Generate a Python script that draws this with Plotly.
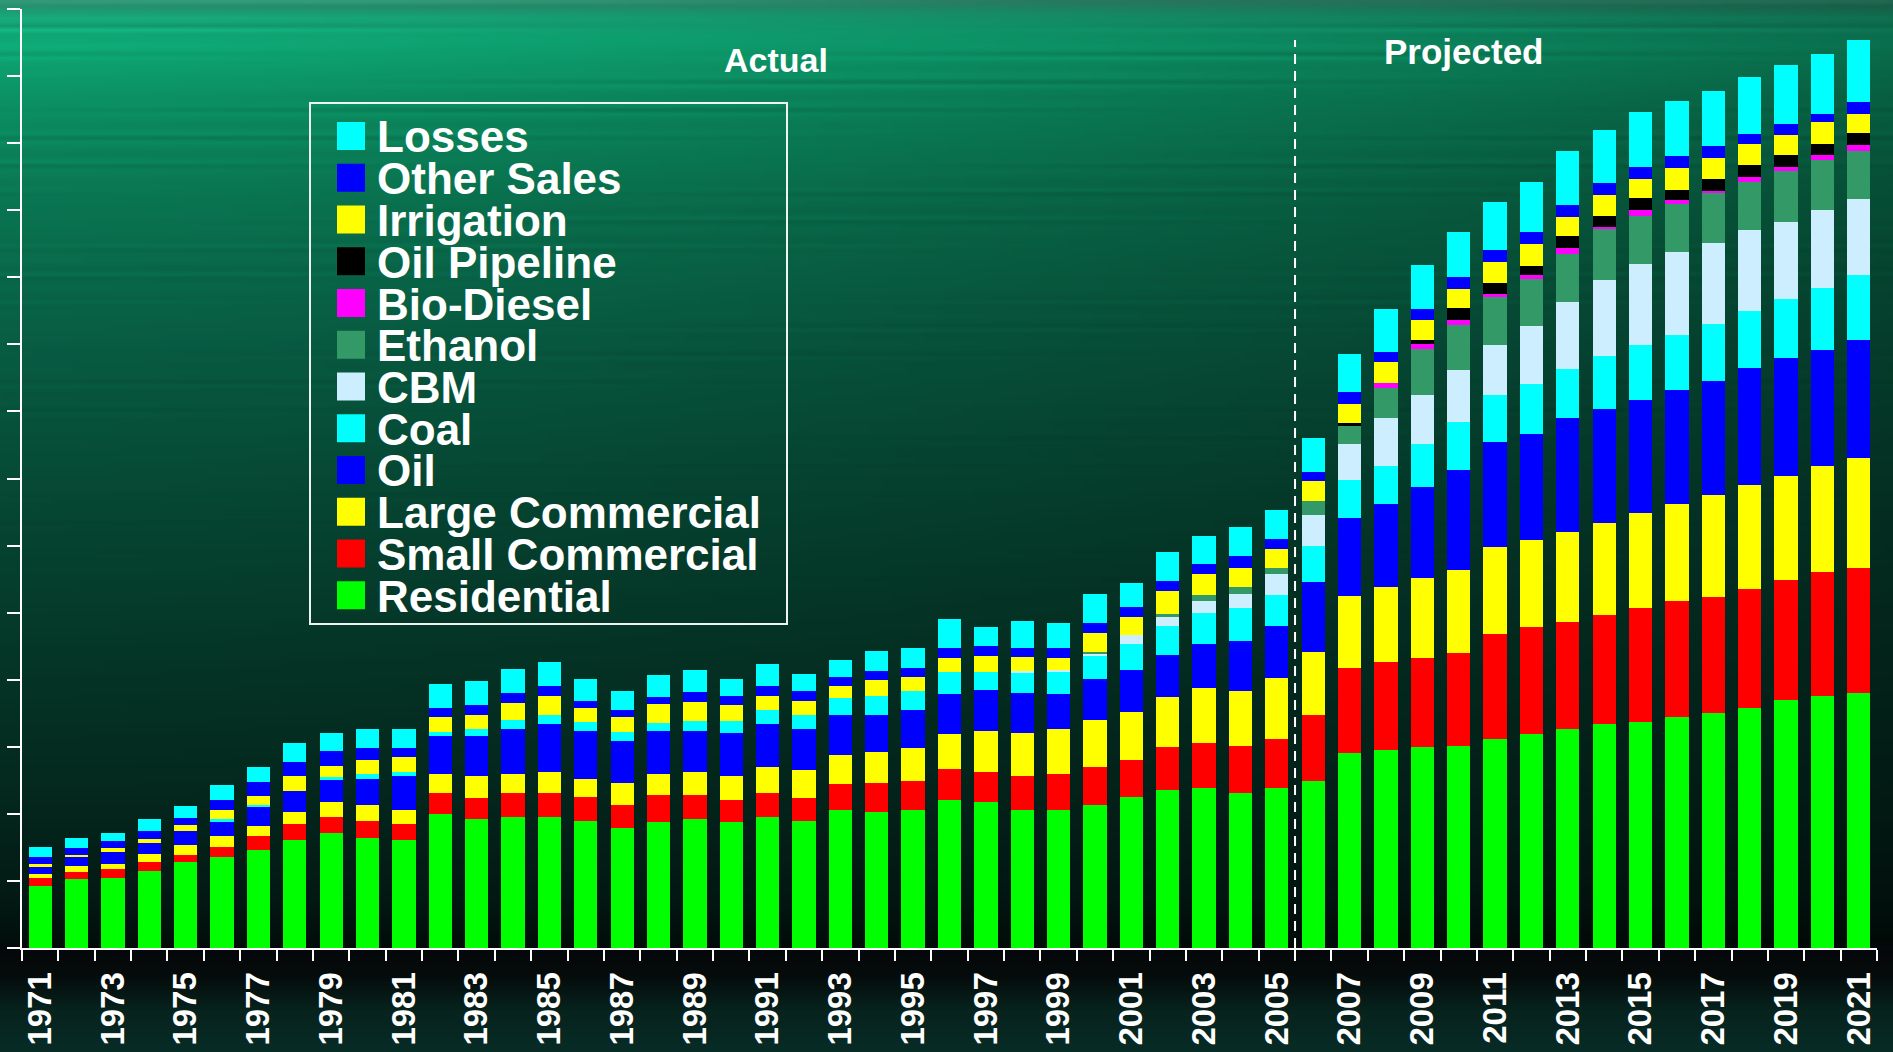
import numpy as np
import zlib, struct, base64
import plotly.graph_objects as go

# ---------------- data (units: one y-axis tick = 1) ----------------
years = list(range(1971, 2022))

residential = [0.92, 1.03, 1.04, 1.15, 1.28, 1.36, 1.46, 1.61, 1.71, 1.64,
               1.61, 2.00, 1.92, 1.95, 1.95, 1.89, 1.79, 1.88, 1.92, 1.88,
               1.95, 1.89, 2.06, 2.03, 2.06, 2.21, 2.18, 2.06, 2.06, 2.13,
               2.25, 2.36, 2.39, 2.31, 2.39, 2.49, 2.91, 2.95, 2.99, 3.01,
               3.12, 3.19, 3.26, 3.34, 3.37, 3.44, 3.50, 3.58, 3.70, 3.76, 3.80]
small_commercial = [0.12, 0.11, 0.14, 0.13, 0.10, 0.15, 0.21, 0.24, 0.24, 0.25,
                    0.24, 0.31, 0.31, 0.36, 0.36, 0.36, 0.34, 0.40, 0.36, 0.33,
                    0.36, 0.34, 0.39, 0.43, 0.43, 0.46, 0.45, 0.51, 0.54, 0.57,
                    0.55, 0.63, 0.67, 0.70, 0.73, 0.98, 1.27, 1.31, 1.34, 1.39,
                    1.56, 1.59, 1.60, 1.62, 1.70, 1.73, 1.74, 1.78, 1.79, 1.85, 1.87]
large_commercial = [0.06, 0.08, 0.07, 0.12, 0.15, 0.16, 0.15, 0.18, 0.22, 0.24,
                    0.21, 0.28, 0.33, 0.28, 0.31, 0.27, 0.33, 0.31, 0.34, 0.36,
                    0.39, 0.43, 0.43, 0.46, 0.49, 0.52, 0.60, 0.63, 0.67, 0.70,
                    0.72, 0.75, 0.82, 0.82, 0.90, 0.95, 1.07, 1.12, 1.19, 1.24,
                    1.30, 1.31, 1.34, 1.38, 1.42, 1.45, 1.52, 1.55, 1.55, 1.58, 1.63]
oil = [0.11, 0.14, 0.18, 0.16, 0.21, 0.21, 0.28, 0.31, 0.34, 0.39,
       0.51, 0.57, 0.60, 0.67, 0.72, 0.72, 0.63, 0.64, 0.61, 0.63,
       0.64, 0.60, 0.60, 0.55, 0.57, 0.60, 0.61, 0.60, 0.52, 0.61,
       0.63, 0.63, 0.66, 0.75, 0.78, 1.04, 1.16, 1.24, 1.36, 1.48,
       1.56, 1.58, 1.70, 1.70, 1.68, 1.70, 1.70, 1.74, 1.75, 1.73, 1.77]
coal = [0, 0, 0, 0, 0, 0.04, 0.03, 0, 0.04, 0.07,
        0.06, 0.06, 0.10, 0.14, 0.13, 0.13, 0.13, 0.13, 0.16, 0.18,
        0.21, 0.21, 0.25, 0.28, 0.28, 0.33, 0.28, 0.30, 0.33, 0.34,
        0.39, 0.43, 0.46, 0.49, 0.46, 0.54, 0.57, 0.56, 0.64, 0.72,
        0.70, 0.74, 0.73, 0.78, 0.82, 0.82, 0.84, 0.85, 0.88, 0.92, 0.96]
cbm = [0] * 27 + [0.03, 0.03, 0.04,
                  0.12, 0.13, 0.18, 0.21, 0.31, 0.45, 0.54, 0.72, 0.72, 0.78,
                  0.75, 0.86, 1.00, 1.14, 1.21, 1.23, 1.21, 1.21, 1.16, 1.16, 1.14]
ethanol = [0] * 29 + [0.03, 0,
                      0.05, 0.08, 0.10, 0.10, 0.21, 0.27, 0.45, 0.69, 0.67,
                      0.72, 0.71, 0.72, 0.76, 0.72, 0.73, 0.74, 0.71, 0.75, 0.75, 0.72]
bio_diesel = [0] * 37 + [0.07, 0.07, 0.07,
                         0.04, 0.06, 0.09, 0.03, 0.08, 0.05, 0.04, 0.07, 0.07, 0.07, 0.08]
oil_pipeline = [0] * 36 + [0.04, 0, 0.06, 0.18,
                           0.16, 0.13, 0.18, 0.16, 0.18, 0.15, 0.18, 0.18, 0.18, 0.16, 0.18]
irrigation = [0.04, 0.03, 0.06, 0.07, 0.10, 0.14, 0.13, 0.22, 0.16, 0.21,
              0.22, 0.22, 0.21, 0.25, 0.28, 0.21, 0.22, 0.28, 0.28, 0.25,
              0.21, 0.21, 0.18, 0.25, 0.21, 0.21, 0.24, 0.21, 0.18, 0.28,
              0.27, 0.34, 0.31, 0.28, 0.28, 0.30, 0.28, 0.32, 0.31, 0.29,
              0.32, 0.33, 0.28, 0.31, 0.29, 0.33, 0.31, 0.31, 0.29, 0.33, 0.29]
other_sales = [0.11, 0.10, 0.10, 0.11, 0.10, 0.15, 0.22, 0.21, 0.22, 0.18,
               0.13, 0.14, 0.15, 0.15, 0.15, 0.10, 0.11, 0.10, 0.15, 0.13,
               0.15, 0.15, 0.13, 0.13, 0.13, 0.15, 0.15, 0.13, 0.15, 0.15,
               0.15, 0.15, 0.15, 0.18, 0.15, 0.13, 0.18, 0.14, 0.15, 0.18,
               0.18, 0.18, 0.18, 0.18, 0.18, 0.18, 0.18, 0.15, 0.16, 0.13, 0.18]
losses = [0.15, 0.15, 0.12, 0.18, 0.18, 0.22, 0.22, 0.28, 0.28, 0.28,
          0.28, 0.36, 0.36, 0.36, 0.36, 0.33, 0.28, 0.33, 0.33, 0.25,
          0.33, 0.25, 0.25, 0.30, 0.30, 0.43, 0.28, 0.40, 0.36, 0.43,
          0.36, 0.43, 0.43, 0.43, 0.43, 0.51, 0.57, 0.64, 0.67, 0.67,
          0.72, 0.74, 0.80, 0.80, 0.82, 0.82, 0.82, 0.85, 0.89, 0.89, 0.92]

series_names = ["Residential", "Small Commercial", "Large Commercial", "Oil", "Coal",
                "CBM", "Ethanol", "Bio-Diesel", "Oil Pipeline", "Irrigation",
                "Other Sales", "Losses"]
series_values = [residential, small_commercial, large_commercial, oil, coal, cbm,
                 ethanol, bio_diesel, oil_pipeline, irrigation, other_sales, losses]
series_colors = ["#00ff00", "#ff0000", "#ffff00", "#0000ff", "#00ffff", "#cceeff",
                 "#339966", "#ff00ff", "#000000", "#ffff00", "#0000ff", "#00ffff"]

tick_years = list(range(1971, 2022, 2))
tick_labels = [str(y) for y in tick_years]

# ---------------- geometry (pixels) ----------------
W, H = 1893, 1052
ML, MR, MT, MB = 22, 16, 9, 104
PW, PH = W - ML - MR, H - MT - MB


def pxx(x):
    return (x - ML) / PW


def pxy(y):
    return (H - MB - y) / PH


# ---------------- background image ----------------
def make_png(arr):
    h, w, _ = arr.shape
    raw = b"".join(b"\x00" + arr[i].tobytes() for i in range(h))

    def chunk(t, d):
        c = struct.pack(">I", len(d)) + t + d
        return c + struct.pack(">I", zlib.crc32(t + d) & 0xFFFFFFFF)

    png = (b"\x89PNG\r\n\x1a\n"
           + chunk(b"IHDR", struct.pack(">IIBBBBB", w, h, 8, 2, 0, 0, 0))
           + chunk(b"IDAT", zlib.compress(raw, 9))
           + chunk(b"IEND", b""))
    return "data:image/png;base64," + base64.b64encode(png).decode()


bw, bh = 474, 263
sy = np.array([0, 15, 40, 100, 200, 350, 500, 650, 800, 900, 940, 950, 975, 1010, 1052], float)
sc = np.array([(50, 140, 110), (25, 165, 120), (15, 172, 120), (12, 145, 100), (10, 118, 82),
               (8, 92, 66), (6, 72, 52), (5, 55, 40), (4, 40, 30), (3, 26, 20), (2, 16, 12),
               (6, 8, 10), (5, 12, 12), (7, 35, 30), (8, 45, 38)], float)
rows_y = (np.arange(bh) + 0.5) * H / bh
cols_x = (np.arange(bw) + 0.5) * W / bw
base = np.stack([np.interp(rows_y, sy, sc[:, k]) for k in range(3)], axis=1)
dark = 1 - 0.35 * (cols_x / W) ** 1.4
above = (rows_y < 945).astype(float)
fac = 1 - (1 - dark[None, :]) * above[:, None]
streak = (np.sin(rows_y * 0.9) * np.sin(rows_y * 0.23 + 1.3)) * np.clip(1 - rows_y / 700, 0, 1)
streak2 = 0.5 + 0.5 * np.sin(cols_x[None, :] * 0.004 + rows_y[:, None] * 0.05)
light = 1 + 0.12 * streak[:, None] * streak2
img = base[:, None, :] * fac[:, :, None] * light[:, :, None]
img = np.clip(img, 0, 255).astype(np.uint8)
bg_src = make_png(img)

# ---------------- figure ----------------
fig = go.Figure()
for name, vals, col in zip(series_names, series_values, series_colors):
    fig.add_trace(go.Bar(x=years, y=vals, name=name, marker_color=col,
                         marker_line_width=0, width=0.64, showlegend=False))

shapes = []
annotations = []

# dashed separator between actual and projected
shapes.append(dict(type="line", xref="x", yref="paper", x0=2005.5, x1=2005.5,
                   y0=0, y1=pxy(40), line=dict(color="white", width=2, dash="10px,7px")))

# manual legend
shapes.append(dict(type="rect", xref="paper", yref="paper", x0=pxx(310), x1=pxx(787),
                   y0=pxy(624), y1=pxy(103), line=dict(color="#eef5f1", width=2),
                   fillcolor="rgba(0,0,0,0)"))
legend_order = list(range(len(series_names)))[::-1]
for i, idx in enumerate(legend_order):
    cy = 136 + i * 41.75
    shapes.append(dict(type="rect", xref="paper", yref="paper", x0=pxx(337), x1=pxx(365),
                       y0=pxy(cy + 14), y1=pxy(cy - 14), line=dict(width=0),
                       fillcolor=series_colors[idx]))
    annotations.append(dict(xref="paper", yref="paper", x=pxx(375), y=pxy(cy + 1),
                            xanchor="left", yanchor="middle", showarrow=False,
                            text=series_names[idx],
                            font=dict(family="Liberation Sans, Arial, sans-serif", size=44,
                                      color="white", weight="bold")))

annotations.append(dict(xref="paper", yref="paper", x=pxx(776), y=pxy(60), xanchor="center",
                        yanchor="middle", showarrow=False, text="Actual",
                        font=dict(family="Liberation Sans, Arial, sans-serif", size=34,
                                  color="white", weight="bold")))
annotations.append(dict(xref="paper", yref="paper", x=pxx(1464), y=pxy(52), xanchor="center",
                        yanchor="middle", showarrow=False, text="Projected",
                        font=dict(family="Liberation Sans, Arial, sans-serif", size=35,
                                  color="white", weight="bold")))

fig.update_layout(
    width=W, height=H, autosize=False,
    margin=dict(l=ML, r=MR, t=MT, b=MB, pad=0, autoexpand=False),
    barmode="stack",
    paper_bgcolor="#04281f",
    plot_bgcolor="rgba(0,0,0,0)",
    showlegend=False,
    shapes=shapes,
    annotations=annotations,
    images=[dict(source=bg_src, xref="paper", yref="paper", x=pxx(0), y=pxy(0),
                 sizex=W / PW, sizey=H / PH, xanchor="left", yanchor="top",
                 sizing="stretch", layer="below", opacity=1)],
    xaxis=dict(range=[1970.5, 2021.5], tickmode="array", tickvals=tick_years,
               ticktext=tick_labels, tickangle=-90, ticks="", ticklabelstandoff=9,
               automargin=False,
               tickfont=dict(family="Liberation Sans, Arial, sans-serif", size=33,
                             color="white", weight="bold"),
               showline=True, linecolor="white", linewidth=2, showgrid=False, zeroline=False,
               minor=dict(tickmode="array", tickvals=[y - 0.5 for y in years] + [2021.5],
                          ticks="outside", ticklen=11, tickwidth=2, tickcolor="white",
                          showgrid=False)),
    yaxis=dict(range=[0, 14], tickmode="linear", tick0=0, dtick=1, ticks="outside",
               ticklen=13, tickwidth=2, tickcolor="white", showticklabels=False,
               automargin=False,
               showline=True, linecolor="white", linewidth=2, showgrid=False,
               zeroline=False),
)

fig.write_html("out.html",
               config={"displayModeBar": False},
               post_script="document.body.style.margin='0';"
                           "document.body.style.padding='0';"
                           "document.body.style.background='#04281f';"
                           "document.documentElement.style.overflow='hidden';")
